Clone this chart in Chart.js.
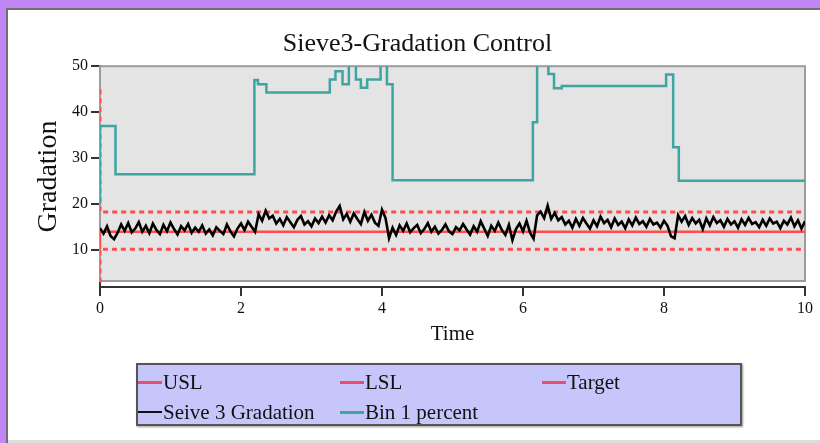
<!DOCTYPE html>
<html lang="en">
<head>
  <meta charset="UTF-8">
  <title>Sieve3-Gradation Control</title>
  <script src="https://cdn.jsdelivr.net/npm/chart.js"></script>
  <style>
    * { box-sizing: border-box; }
    body {
      margin: 0;
      width: 820px;
      height: 443px;
      position: relative;
      overflow: hidden;
      background: #fff;
      font-family: 'Liberation Serif', 'Times New Roman', serif;
    }
    .frame { position: absolute; }
    #frameTop { left: 0; top: 0; width: 820px; height: 8px; background: #c186f6; }
    #frameLeft { left: 0; top: 0; width: 6px; height: 443px; background: #c186f6; }
    #edgeTop { left: 6px; top: 8px; width: 814px; height: 2px; background: #707070; }
    #edgeLeft { left: 6px; top: 8px; width: 2px; height: 435px; background: #707070; }
    #edgeBottom { left: 8px; top: 440px; width: 812px; height: 3px; background: #dcdcdc; }
    #grafica { position: absolute; left: 0; top: 0; }
    #leyenda {
      position: absolute;
      left: 136px;
      top: 363px;
      width: 606px;
      height: 63px;
      border: 2px solid #555;
      background: #c6c6fa;
      box-shadow: 1px 1px 2px #999;
      padding-top: 2px;
      display: grid;
      grid-template-columns: 202px 202px 198px;
      grid-auto-rows: 30px;
    }
    .item {
      display: flex;
      align-items: center;
      font-size: 21px;
      color: #111;
      white-space: nowrap;
    }
    .item span.linea {
      display: inline-block;
      width: 24px;
      height: 3px;
      margin-right: 1px;
    }
  </style>
</head>
<body>
  <div class="frame" id="frameTop"></div>
  <div class="frame" id="frameLeft"></div>
  <div class="frame" id="edgeTop"></div>
  <div class="frame" id="edgeLeft"></div>
  <div class="frame" id="edgeBottom"></div>
  <canvas id="grafica" width="820" height="443"></canvas>
  <div id="leyenda"></div>
  <script>
// tick labels
const xTicks = [0, 2, 4, 6, 8, 10];
const yTicks = [10, 20, 30, 40, 50];

// spec limits (time, value)
const uslTime = [0, 0, 10];
const uslValue = [45, 18.3, 18.3];
const lslTime = [0, 0, 10];
const lslValue = [3, 10.2, 10.2];
const targetTime = [0, 0, 10];
const targetValue = [10.2, 14, 14];

// Bin 1 percent, change points (stepped)
const binTime = [0, 0, 0.22, 2.19, 2.24, 2.36, 3.26, 3.34, 3.44, 3.53, 3.63, 3.70, 3.79, 3.98, 4.07, 4.15,
  6.14, 6.20, 6.36, 6.44, 6.55, 8.03, 8.13, 8.21, 10];
const binValue = [20, 37, 26.5, 47, 46.1, 44.3, 47.1, 48.9, 46.1, 51, 47.1, 45.3, 47.1, 51, 46.1, 25.2,
  37.8, 51, 48.3, 45.2, 45.7, 48.2, 32.4, 25.1, 25.1];

// Seive 3 Gradation, one reading every 0.05 time units from 0 to 10
const gradStep = 0.05;
const gradValue = [
  14.8, 13.6, 15.2, 13.1, 12.4, 13.8, 15.6, 14.2, 15.9, 13.9,
  14.7, 16.1, 14.0, 15.3, 13.7, 15.8, 14.4, 13.5, 15.5, 14.1,
  16.0, 14.6, 13.4, 15.2, 14.3, 15.7, 13.8, 14.9, 14.0, 15.4,
  13.6, 14.5, 13.2, 15.0, 14.2, 13.5, 15.6, 14.1, 13.0, 14.7,
  15.8, 14.4, 16.2, 15.1, 14.0, 17.8, 16.4, 18.6, 16.9, 17.5,
  15.8, 16.8, 15.4, 17.2, 16.1, 15.0, 16.6, 17.4, 15.6, 16.3,
  15.2, 16.9, 15.9, 17.3, 16.0, 17.6, 16.5, 18.4, 19.6, 16.7,
  17.9, 16.2, 18.0, 16.8, 15.7, 18.3, 16.4, 17.7, 16.0, 15.3,
  18.8, 17.0, 12.6, 14.9, 13.3, 15.4, 14.2, 15.8, 13.9, 14.8,
  15.5, 13.7, 14.6, 15.9, 14.0, 15.1, 13.6, 14.4, 15.6, 14.1,
  13.5, 15.0, 14.3, 15.7, 14.5, 13.4, 15.2, 14.0, 16.3, 14.7,
  13.1, 15.3, 14.2, 16.0, 14.4, 13.3, 15.5, 12.2, 14.6, 15.8,
  14.1, 16.4, 13.8, 12.5, 17.6, 18.4, 17.0, 19.7, 16.8, 18.1,
  16.5, 17.2, 15.6, 16.4, 14.9, 16.8, 15.3, 17.0, 15.8, 14.7,
  16.5, 15.2, 17.3, 15.9, 16.6, 15.0, 16.9, 15.5, 16.2, 14.8,
  16.7, 15.4, 17.1, 15.7, 16.3, 15.1, 16.8, 15.6, 16.0, 14.9,
  16.4, 15.3, 13.0, 12.6, 17.6, 16.2, 17.4, 15.5, 17.0, 15.8,
  16.6, 14.6, 16.9, 15.4, 17.2, 15.9, 16.5, 15.1, 16.8, 15.6,
  16.3, 14.9, 16.7, 15.5, 17.0, 15.7, 16.1, 15.0, 16.6, 15.3,
  16.9, 15.8, 16.2, 14.8, 16.4, 15.6, 17.1, 15.2, 16.5, 14.7,
  16.3
];

const rojo = '#ff4d4d';
const teal = '#3ea5a2';

function puntos(tiempos, valores) {
  return tiempos.map((t, i) => ({ x: t, y: valores[i] }));
}

const datasets = [
  { label: 'USL', data: puntos(uslTime, uslValue), borderColor: rojo, borderWidth: 3, borderDash: [5, 4], order: 4, legendColor: '#e8506a' },
  { label: 'LSL', data: puntos(lslTime, lslValue), borderColor: rojo, borderWidth: 3, borderDash: [5, 4], order: 5, legendColor: '#e8506a' },
  { label: 'Target', data: puntos(targetTime, targetValue), borderColor: rojo, borderWidth: 2.5, order: 3, legendColor: '#e8506a' },
  { label: 'Seive 3 Gradation', data: gradValue.map((v, i) => ({ x: i * gradStep, y: v })), borderColor: '#000', borderWidth: 2.6, order: 1, legendColor: '#111' },
  { label: 'Bin 1 percent', data: puntos(binTime, binValue), borderColor: teal, borderWidth: 2.5, stepped: true, order: 2, legendColor: teal }
];

// gray plot box, sits a few px above the x axis like the original
const cajaGris = {
  id: 'cajaGris',
  beforeDatasetsDraw(chart) {
    const { ctx, chartArea } = chart;
    const bottom = chartArea.bottom - 6;
    ctx.save();
    ctx.fillStyle = '#e4e4e4';
    ctx.fillRect(chartArea.left, chartArea.top, chartArea.right - chartArea.left, bottom - chartArea.top);
    ctx.strokeStyle = '#9c9c9c';
    ctx.lineWidth = 2;
    ctx.strokeRect(chartArea.left, chartArea.top, chartArea.right - chartArea.left, bottom - chartArea.top);
    ctx.restore();
  }
};

const serif = "'Liberation Serif', 'Times New Roman', serif";

const chart = new Chart(document.getElementById('grafica'), {
  type: 'line',
  data: { datasets },
  options: {
    responsive: false,
    animation: false,
    layout: { padding: { top: 27, left: 30, right: 15, bottom: 96 } },
    elements: { point: { radius: 0 }, line: { tension: 0, fill: false } },
    plugins: {
      legend: { display: false },
      tooltip: { enabled: false },
      title: {
        display: true,
        text: 'Sieve3-Gradation Control',
        color: '#111',
        font: { family: serif, size: 26, weight: 'normal' },
        padding: { top: 2, bottom: 6 }
      }
    },
    scales: {
      x: {
        type: 'linear',
        min: 0,
        max: 10,
        afterBuildTicks: s => { s.ticks = xTicks.map(v => ({ value: v })); },
        ticks: { color: '#111', padding: 3, font: { family: serif, size: 16 } },
        grid: { drawOnChartArea: false, drawTicks: true, tickLength: 9, color: '#333', lineWidth: 2 },
        border: { color: '#333', width: 2 },
        title: { display: true, text: 'Time', color: '#111', font: { family: serif, size: 21 }, padding: { top: 0, bottom: 0 } },
        afterFit: s => { s.height = 60; }
      },
      y: {
        min: 2,
        max: 50,
        afterBuildTicks: s => { s.ticks = yTicks.map(v => ({ value: v })); },
        ticks: { color: '#111', padding: 3, font: { family: serif, size: 16 } },
        grid: { drawOnChartArea: false, drawTicks: true, tickLength: 9, color: '#333', lineWidth: 2 },
        border: { color: '#333', width: 2 },
        title: { display: true, text: 'Gradation', color: '#111', font: { family: serif, size: 28 }, padding: { top: 2, bottom: 0 } },
        afterFit: s => { s.width = 70; }
      }
    }
  },
  plugins: [cajaGris]
});

// legend in a lavender box below the plot
const leyenda = document.getElementById('leyenda');
chart.data.datasets.forEach(ds => {
  const item = document.createElement('div');
  item.className = 'item';
  const linea = document.createElement('span');
  linea.className = 'linea';
  linea.style.background = ds.legendColor;
  if (ds.label === 'Seive 3 Gradation') linea.style.height = '2px';
  item.appendChild(linea);
  item.appendChild(document.createTextNode(ds.label));
  leyenda.appendChild(item);
});
</script>
</body>
</html>
